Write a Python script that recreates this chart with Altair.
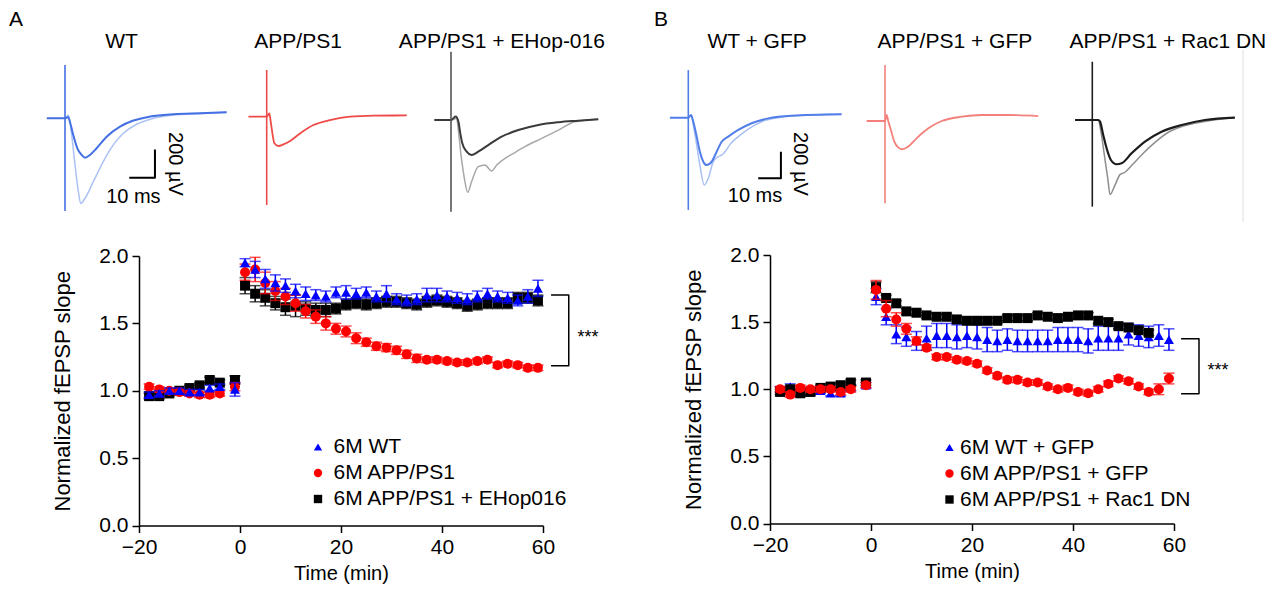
import altair as alt
import pandas as pd

FONT = "Liberation Sans"
W, H = 1263, 576
M = 8  # page margin of the html page

# ---------------- LTP time course (normalized fEPSP slope) ----------------
TIME = [-18, -16, -14, -12, -10, -8, -6, -4, -1,
        1, 3, 5, 7, 9, 11, 13, 15, 17, 19, 21, 23, 25, 27, 29,
        31, 33, 35, 37, 39, 41, 43, 45, 47, 49, 51, 53, 55, 57, 59]
TIME_RAC = [-18, -16, -14, -12, -10, -8, -6, -4, -1,
            1, 3, 5, 7, 9, 11, 13, 15, 17, 19, 21, 23, 25, 27, 29,
            31, 33, 35, 37, 39, 41, 43, 45, 47, 49, 51, 53, 55]

A_NAMES = ["6M WT", "6M APP/PS1", "6M APP/PS1 + EHop016"]
B_NAMES = ["6M WT + GFP", "6M APP/PS1 + GFP", "6M APP/PS1 + Rac1 DN"]

A_WT = [0.97, 0.98, 1.00, 1.00, 0.99, 0.99, 1.02, 1.03, 1.01,
        1.95, 1.90, 1.83, 1.80, 1.78, 1.74, 1.72, 1.71, 1.70, 1.73,
        1.73, 1.72, 1.73, 1.70, 1.72, 1.68, 1.67, 1.68, 1.71, 1.71,
        1.70, 1.69, 1.68, 1.70, 1.72, 1.70, 1.69, 1.67, 1.70, 1.76]
A_WT_ERR = [0.02, 0.02, 0.02, 0.02, 0.02, 0.02, 0.02, 0.02, 0.05,
            0.03, 0.06, 0.07, 0.06, 0.05, 0.05, 0.05, 0.04, 0.04, 0.04,
            0.05, 0.04, 0.04, 0.04, 0.06, 0.04, 0.04, 0.04, 0.05, 0.05,
            0.04, 0.04, 0.04, 0.04, 0.04, 0.04, 0.04, 0.04, 0.05, 0.06]
A_APP = [1.03, 1.01, 1.00, 0.99, 0.98, 0.97, 0.97, 0.98, 1.03,
         1.88, 1.90, 1.80, 1.74, 1.70, 1.65, 1.59, 1.55, 1.50, 1.46,
         1.44, 1.39, 1.36, 1.33, 1.32, 1.30, 1.27, 1.24, 1.23, 1.23,
         1.22, 1.21, 1.21, 1.22, 1.23, 1.19, 1.20, 1.19, 1.17, 1.17]
A_APP_ERR = [0.02, 0.02, 0.02, 0.02, 0.02, 0.02, 0.02, 0.02, 0.03,
             0.06, 0.09, 0.08, 0.07, 0.06, 0.06, 0.05, 0.05, 0.05, 0.04,
             0.04, 0.04, 0.03, 0.03, 0.03, 0.03, 0.03, 0.03, 0.02, 0.02,
             0.02, 0.02, 0.02, 0.02, 0.02, 0.02, 0.02, 0.02, 0.02, 0.02]
A_EHOP = [0.96, 0.96, 0.98, 1.00, 1.02, 1.04, 1.08, 1.06, 1.08,
          1.78, 1.72, 1.69, 1.65, 1.62, 1.63, 1.61, 1.60, 1.60, 1.61,
          1.64, 1.65, 1.64, 1.65, 1.66, 1.66, 1.65, 1.64, 1.66, 1.67,
          1.66, 1.65, 1.63, 1.64, 1.65, 1.65, 1.65, 1.69, 1.69, 1.67]
A_EHOP_ERR = [0.02, 0.02, 0.02, 0.02, 0.02, 0.02, 0.02, 0.02, 0.03,
              0.06, 0.06, 0.06, 0.05, 0.06, 0.08, 0.05, 0.05, 0.05, 0.04,
              0.04, 0.04, 0.04, 0.04, 0.04, 0.04, 0.04, 0.04, 0.04, 0.04,
              0.04, 0.04, 0.04, 0.04, 0.04, 0.04, 0.04, 0.04, 0.04, 0.04]

B_WT = [1.00, 1.02, 0.97, 0.98, 0.99, 0.97, 0.97, 1.01, 1.03,
        1.69, 1.54, 1.41, 1.39, 1.36, 1.38, 1.40, 1.40, 1.39, 1.40,
        1.39, 1.37, 1.36, 1.37, 1.36, 1.36, 1.36, 1.36, 1.37, 1.37,
        1.37, 1.36, 1.38, 1.38, 1.38, 1.41, 1.40, 1.39, 1.40, 1.37]
B_WT_ERR = [0.02, 0.02, 0.02, 0.02, 0.02, 0.02, 0.02, 0.02, 0.02,
            0.06, 0.06, 0.07, 0.07, 0.07, 0.09, 0.09, 0.09, 0.09, 0.09,
            0.09, 0.09, 0.08, 0.08, 0.08, 0.08, 0.08, 0.08, 0.09, 0.09,
            0.09, 0.09, 0.09, 0.09, 0.09, 0.08, 0.08, 0.08, 0.08, 0.08]
B_APP = [1.00, 0.96, 1.01, 1.00, 1.00, 1.00, 0.98, 1.00, 1.03,
         1.74, 1.60, 1.52, 1.45, 1.36, 1.31, 1.24, 1.24, 1.22, 1.21,
         1.19, 1.14, 1.10, 1.07, 1.07, 1.05, 1.05, 1.02, 1.00, 1.01,
         0.98, 0.97, 1.00, 1.04, 1.08, 1.06, 1.02, 0.98, 1.00, 1.08]
B_APP_ERR = [0.02, 0.02, 0.02, 0.02, 0.02, 0.02, 0.02, 0.02, 0.02,
             0.07, 0.06, 0.05, 0.04, 0.03, 0.02, 0.02, 0.02, 0.02, 0.02,
             0.02, 0.02, 0.02, 0.02, 0.02, 0.02, 0.02, 0.02, 0.02, 0.02,
             0.02, 0.02, 0.02, 0.02, 0.02, 0.02, 0.02, 0.02, 0.04, 0.04]
B_RAC = [0.98, 1.00, 0.97, 0.98, 1.01, 1.02, 1.03, 1.05, 1.05,
         1.76, 1.68, 1.64, 1.58, 1.57, 1.55, 1.54, 1.54, 1.52, 1.51,
         1.51, 1.51, 1.51, 1.53, 1.53, 1.53, 1.55, 1.54, 1.53, 1.54,
         1.55, 1.55, 1.51, 1.50, 1.47, 1.46, 1.44, 1.42]
B_RAC_ERR = [0.02, 0.02, 0.02, 0.02, 0.02, 0.02, 0.02, 0.02, 0.02,
             0.04, 0.02, 0.02, 0.02, 0.02, 0.02, 0.02, 0.02, 0.02, 0.02,
             0.02, 0.02, 0.02, 0.02, 0.02, 0.02, 0.02, 0.02, 0.02, 0.02,
             0.02, 0.02, 0.02, 0.02, 0.02, 0.02, 0.02, 0.02]

# significance brackets (time in min, normalized slope)
A_BRACKET_T = [61.6, 65.1, 65.1, 61.6]
A_BRACKET_V = [1.711, 1.711, 1.185, 1.185]
B_BRACKET_T = [61.4, 64.95, 64.95, 61.4]
B_BRACKET_V = [1.377, 1.377, 0.966, 0.966]

# ---------------- example fEPSP traces (ms, µV relative to baseline) ----------------
# stimulus artefacts: [peak, trough] at 0 ms
WT_ART = [377, -655]
APP_ART = [330, -624]
EHOP_ART = [483, -648]
WTG_ART = [357, -692]
APPG_ART = [420, -617]
RAC_ART = [437, -650]

WT_DARK_MS = [-7.1, 0, 1.2, 1.9, 3.2, 4.8, 6.5, 7.8, 9.7, 12.3, 16.2, 21.4, 26.6, 33.1, 42.2, 52.5, 62.9]
WT_DARK_UV = [0, 0, 10, -24, -118, -212, -259, -278, -259, -212, -130, -59, -16, 12, 28, 35, 42]
WT_LIGHT_MS = [0.4, 1.3, 2.6, 3.9, 5.2, 6.1, 7.8, 11.0, 14.9, 18.8, 22.7, 27.9, 34.4, 42.2, 52.5, 62.9]
WT_LIGHT_UV = [0, 24, -118, -330, -518, -601, -565, -448, -306, -188, -106, -42, 0, 24, 33, 42]

APP_MS = [-7.1, 0, 1.0, 1.56, 2.33, 2.98, 4.54, 6.49, 9.08, 12.97, 18.16, 24.6, 32.4, 41.5, 54.5]
APP_UV = [0, 0, 24, -35, -130, -188, -207, -196, -172, -118, -59, -24, 0, 7, 9]

EHOP_DARK_MS = [-6.5, 0, 1.8, 2.9, 3.5, 4.4, 6.1, 8.0, 10.6, 14.5, 19.7, 26.2, 34.0, 41.8, 49.5, 57.3]
EHOP_DARK_UV = [0, 0, 24, -12, -82, -165, -224, -247, -224, -177, -118, -71, -35, -16, -5, 5]
EHOP_LIGHT_MS = [0.4, 2.2, 2.9, 3.9, 5.2, 6.5, 8.0, 10.6, 13.2, 15.8, 17.8, 21.0, 23.6, 28.8, 35.3, 41.8, 48.2, 57.3]
EHOP_LIGHT_UV = [0, 12, -82, -247, -412, -511, -436, -330, -318, -360, -318, -271, -243, -188, -130, -71, -12, 5]

WTG_DARK_MS = [-8.1, 0, 1.2, 2.2, 3.7, 5.1, 6.6, 8.1, 10.3, 12.5, 14.7, 17.6, 22.0, 27.9, 35.2, 45.5, 67.5]
WTG_DARK_UV = [0, 0, 20, -30, -142, -255, -330, -355, -330, -255, -180, -142, -92, -42, -5, 15, 25]
WTG_LIGHT_MS = [0.4, 1.2, 2.2, 3.7, 5.1, 7.0, 8.8, 11.0, 13.2, 14.7, 16.2, 18.4, 22.0, 26.4, 32.3, 39.6, 52.9, 67.5]
WTG_LIGHT_UV = [0, 20, -55, -205, -355, -505, -455, -330, -292, -280, -255, -200, -142, -85, -30, 0, 20, 25]

APPG_MS = [-8.1, 0, 0.7, 1.5, 2.6, 4.1, 5.9, 7.6, 10.3, 13.9, 19.1, 25.0, 33.8, 42.6, 54.3, 67.5]
APPG_UV = [0, 0, 45, -5, -67, -155, -200, -212, -192, -130, -55, 0, 32, 45, 45, 37]

RAC_DARK_MS = [-7.6, 0, 2.6, 3.4, 4.8, 6.3, 8.2, 10.7, 12.9, 17.3, 23.2, 30.5, 39.4, 49.6, 62.8]
RAC_DARK_UV = [0, 0, 0, -12, -112, -212, -300, -332, -325, -250, -162, -88, -38, 0, 18]
RAC_LIGHT_MS = [0.4, 2.6, 3.8, 5.3, 6.8, 7.8, 10.0, 12.2, 14.4, 17.3, 21.7, 27.6, 33.5, 39.4, 49.6, 62.8]
RAC_LIGHT_UV = [0, 0, -88, -262, -438, -558, -488, -410, -392, -342, -262, -168, -92, -50, -12, 18]

# scale bars: 10 ms x 200 µV
A_BAR_MS = [25, 35, 35]
A_BAR_UV = [-420, -420, -220]
B_BAR_MS = [30.8, 40.8, 40.8]
B_BAR_UV = [-455, -455, -255]


# ---------------- helpers ----------------
def lin(domain, rng):
    return alt.Scale(domain=domain, range=[rng[0] - M, rng[1] - M], zero=False, nice=False)


def trace_scales(art_x, base_y, px_ms, px_uv):
    xs = lin([0, 10], [art_x, art_x + 10 * px_ms])
    ys = lin([0, 200], [base_y, base_y - 200 * px_uv])
    return xs, ys


def line_layer(xv, yv, color, sw, sc, xname="ms", yname="uv", interp="linear"):
    df = pd.DataFrame({xname: xv, yname: yv, "i": list(range(len(xv)))})
    return alt.Chart(df).mark_line(color=color, strokeWidth=sw, strokeJoin="round",
                                   interpolate=interp).encode(
        x=alt.X(f"{xname}:Q", scale=sc[0], axis=None),
        y=alt.Y(f"{yname}:Q", scale=sc[1], axis=None),
        order=alt.Order("i:Q"),
    )


def trace(ms, uv, color, sw, sc):
    return line_layer(ms, uv, color, sw, sc, interp="monotone")


def artefact(art, color, sc):
    return line_layer([0, 0], art, color, 1.6, sc)


def text_layer(xv, yv, labels, sc, size, angle=0, dy=0):
    df = pd.DataFrame({"px": xv, "py": yv, "label": labels})
    return alt.Chart(df).mark_text(font=FONT, fontSize=size, color="black", angle=angle,
                                   align="center", baseline="middle", dy=dy).encode(
        x=alt.X("px:Q", scale=sc[0], axis=None),
        y=alt.Y("py:Q", scale=sc[1], axis=None),
        text="label:N",
    )


layers = []

# ---------------- traces, panel A ----------------
A_PX_MS, A_PX_UV = 2.57, 0.1415
sc_wt = trace_scales(65, 118.3, A_PX_MS, A_PX_UV)
sc_app = trace_scales(266.7, 116.7, A_PX_MS, A_PX_UV)
sc_ehop = trace_scales(451, 120, A_PX_MS, A_PX_UV)
layers += [
    trace(WT_LIGHT_MS, WT_LIGHT_UV, "#abc2f3", 1.5, sc_wt),
    trace(WT_DARK_MS, WT_DARK_UV, "#4470e3", 2, sc_wt),
    artefact(WT_ART, "#4470e3", sc_wt),
    trace(APP_MS, APP_UV, "#ee4b47", 1.8, sc_app),
    artefact(APP_ART, "#ee4b47", sc_app),
    trace(EHOP_LIGHT_MS, EHOP_LIGHT_UV, "#a8a8a8", 1.5, sc_ehop),
    trace(EHOP_DARK_MS, EHOP_DARK_UV, "#3a3a3a", 2, sc_ehop),
    artefact(EHOP_ART, "#555555", sc_ehop),
    line_layer(A_BAR_MS, A_BAR_UV, "black", 2, sc_wt),
    text_layer([26.6], [-554], ["10 ms"], sc_wt, 20),
    text_layer([42.8], [-323], ["200 µV"], sc_wt, 20, angle=90),
    text_layer([-19.1, 22], [695, 540], ["A", "WT"], sc_wt, 21),
    text_layer([12.2], [528], ["APP/PS1"], sc_app, 21),
    text_layer([19.8], [551], ["APP/PS1 + EHop-016"], sc_ehop, 21),
]

# ---------------- traces, panel B ----------------
B_PX_MS, B_PX_UV = 2.27, 0.1333
sc_wtg = trace_scales(688.3, 117.7, B_PX_MS, B_PX_UV)
sc_appg = trace_scales(885, 121, B_PX_MS, B_PX_UV)
sc_rac = trace_scales(1092.3, 120, B_PX_MS, B_PX_UV)
layers += [
    trace(WTG_LIGHT_MS, WTG_LIGHT_UV, "#a9c0f5", 1.5, sc_wtg),
    trace(WTG_DARK_MS, WTG_DARK_UV, "#527ee9", 2, sc_wtg),
    artefact(WTG_ART, "#527ee9", sc_wtg),
    trace(APPG_MS, APPG_UV, "#f3807b", 1.8, sc_appg),
    artefact(APPG_ART, "#f3807b", sc_appg),
    trace(RAC_LIGHT_MS, RAC_LIGHT_UV, "#8e8e8e", 1.5, sc_rac),
    trace(RAC_DARK_MS, RAC_DARK_UV, "#1c1c1c", 2.2, sc_rac),
    artefact(RAC_ART, "#1c1c1c", sc_rac),
    line_layer([66.4, 66.4], [525, -765], "#dedede", 1, sc_rac),
    line_layer(B_BAR_MS, B_BAR_UV, "black", 2, sc_wtg),
    text_layer([29.4], [-587], ["10 ms"], sc_wtg, 20),
    text_layer([49.2], [-347], ["200 µV"], sc_wtg, 20, angle=90),
    text_layer([-12.0, 30.3], [733, 568], ["B", "WT + GFP"], sc_wtg, 21),
    text_layer([30.8], [593], ["APP/PS1 + GFP"], sc_appg, 21),
    text_layer([33.3], [585], ["APP/PS1 + Rac1 DN"], sc_rac, 21),
]

# ---------------- time-course panels ----------------
COLORS = ["#0000ff", "#ff0000", "#000000"]
SHAPES = ["triangle-up", "circle", "square"]


def scatter_panel(names, times, vals, errs, order, x0, x1, y0, y2, legend_xy, label_offset,
                  br_t, br_v, star_tv):
    sx = lin([-20, 60], [x0, x1])
    sy = lin([0, 2], [y0, y2])
    out = []
    first = True
    for k in order:
        df = pd.DataFrame({"t": times[k], "v": vals[k], "e": errs[k]})
        df["lo"] = df["v"] - df["e"]
        df["hi"] = df["v"] + df["e"]
        if first:
            xax = alt.Axis(orient="bottom", offset=-(H - (y0 - M)), values=[-20, 0, 20, 40, 60],
                           title="Time (min)", grid=False, labelFont=FONT, labelFontSize=21,
                           labelColor="black", titleFont=FONT, titleFontSize=20,
                           titleFontWeight="normal", titleColor="black", domainColor="black",
                           tickColor="black", domainWidth=1.5, tickWidth=1.5, tickSize=7,
                           labelPadding=4, titlePadding=6, labelFlush=False, labelOverlap=False)
            yax = alt.Axis(orient="left", offset=-(x0 - M), values=[0, 0.5, 1, 1.5, 2], format=".1f",
                           title="Normalized fEPSP slope", grid=False, labelFont=FONT,
                           labelFontSize=21, labelColor="black", titleFont=FONT, titleFontSize=22,
                           titleFontWeight="normal", titleColor="black", domainColor="black",
                           tickColor="black", domainWidth=1.5, tickWidth=1.5, tickSize=7,
                           labelPadding=4, titlePadding=24, labelFlush=False, labelOverlap=False)
            first = False
        else:
            xax = None
            yax = None
        base = alt.Chart(df)
        out.append(base.mark_rule(color=COLORS[k], strokeWidth=1.5).encode(
            x=alt.X("t:Q", scale=sx, axis=xax),
            y=alt.Y("lo:Q", scale=sy, axis=yax),
            y2="hi:Q"))
        for col in ["lo", "hi"]:
            out.append(base.mark_tick(color=COLORS[k], orient="horizontal", size=11, thickness=1.5).encode(
                x=alt.X("t:Q", scale=sx, axis=None),
                y=alt.Y(f"{col}:Q", scale=sy, axis=None)))
        df["series"] = names[k]
        legend = None
        if k == order[-1]:
            legend = alt.Legend(orient="none", legendX=legend_xy[0] - M, legendY=legend_xy[1] - M,
                                title=None, labelFont=FONT, labelFontSize=21, labelColor="black",
                                labelLimit=500, symbolSize=70, symbolStrokeWidth=0,
                                labelOffset=label_offset, rowPadding=4, padding=0)
        out.append(alt.Chart(df).mark_point(filled=True, size=100, opacity=1).encode(
            x=alt.X("t:Q", scale=sx, axis=None),
            y=alt.Y("v:Q", scale=sy, axis=None),
            color=alt.Color("series:N", scale=alt.Scale(domain=names, range=COLORS), legend=legend),
            shape=alt.Shape("series:N", scale=alt.Scale(domain=names, range=SHAPES), legend=legend),
        ))
    out.append(line_layer(br_t, br_v, "black", 1.5, (sx, sy), xname="t", yname="v"))
    out.append(text_layer([star_tv[0]], [star_tv[1]], ["***"], (sx, sy), 18, dy=4))
    return out


layers += scatter_panel(A_NAMES, [TIME, TIME, TIME], [A_WT, A_APP, A_EHOP],
                        [A_WT_ERR, A_APP_ERR, A_EHOP_ERR], [2, 1, 0],
                        139, 543, 525.5, 256, (307.5, 436.5), 5,
                        A_BRACKET_T, A_BRACKET_V, (68.9, 1.42))
layers += scatter_panel(B_NAMES, [TIME, TIME, TIME_RAC], [B_WT, B_APP, B_RAC],
                        [B_WT_ERR, B_APP_ERR, B_RAC_ERR], [0, 2, 1],
                        770, 1174, 523.5, 255, (939, 437), 0,
                        B_BRACKET_T, B_BRACKET_V, (68.7, 1.168))

chart = alt.layer(*layers).resolve_scale(
    x="independent", y="independent", color="independent", shape="independent"
).properties(
    width=W, height=H, padding=0, autosize=alt.AutoSizeParams(type="none"), background="white"
).configure_view(stroke=None)

chart.save("out.html", embed_options={"renderer": "svg", "actions": False})
